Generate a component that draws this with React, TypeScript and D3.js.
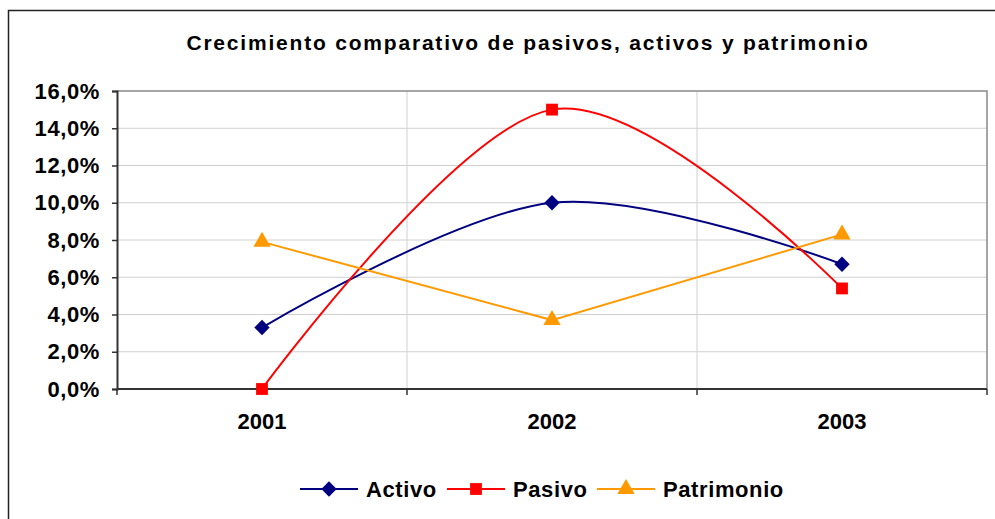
import { useEffect, useRef } from 'react';
import * as d3 from 'd3';

const years = ['2001', '2002', '2003'];
const activo = [3.3, 10.0, 6.7];
const pasivo = [0.0, 15.0, 5.4];
const patrimonio = [7.9, 3.7, 8.3];
const yTicks = [0, 2, 4, 6, 8, 10, 12, 14, 16];

const W = 995;
const H = 519;
const FONT = '"Liberation Sans", Arial, sans-serif';

export default function App() {
  const svgRef = useRef<SVGSVGElement>(null);

  useEffect(() => {
    if (!svgRef.current) return;
    const svg = d3.select(svgRef.current);
    svg.selectAll('*').remove();

    const left = 117, right = 987, top = 91, bottom = 389;

    const x = d3.scaleBand().domain(years).range([left, right]);
    const y = d3.scaleLinear().domain([0, 16]).range([bottom, top]);
    const cx = (d: string) => x(d)! + x.bandwidth() / 2;

    // outer border
    svg.append('rect')
      .attr('x', 8.5).attr('y', 10.5)
      .attr('width', W).attr('height', H)
      .attr('fill', 'white').attr('stroke', '#222').attr('stroke-width', 1.5);

    // title
    svg.append('text')
      .attr('x', 528).attr('y', 50)
      .attr('text-anchor', 'middle')
      .attr('font-family', FONT).attr('font-weight', 'bold')
      .attr('font-size', 21).attr('letter-spacing', 1.8)
      .text('Crecimiento comparativo de pasivos, activos y patrimonio');

    // grid
    const grid = svg.append('g');
    yTicks.filter((t) => t > 0 && t < 16).forEach((t) => {
      grid.append('line')
        .attr('x1', left).attr('x2', right)
        .attr('y1', y(t)).attr('y2', y(t))
        .attr('stroke', '#d0d0d0').attr('stroke-width', 1);
    });
    years.slice(1).forEach((yr) => {
      grid.append('line')
        .attr('x1', x(yr)).attr('x2', x(yr))
        .attr('y1', top).attr('y2', bottom)
        .attr('stroke', '#d0d0d0').attr('stroke-width', 1);
    });

    // plot border top/right
    svg.append('path')
      .attr('d', `M${left},${top}H${right}V${bottom}`)
      .attr('fill', 'none').attr('stroke', '#888').attr('stroke-width', 1.5);

    // y axis
    const yAxis = svg.append('g').attr('transform', `translate(${left},0)`)
      .call(d3.axisLeft(y).tickValues(yTicks).tickSize(5).tickPadding(12)
        .tickFormat((d) => d3.format('.1f')(d as number).replace('.', ',') + '%'));
    yAxis.select('.domain').attr('stroke', '#333').attr('stroke-width', 2);
    yAxis.selectAll('.tick line').attr('stroke', '#333').attr('stroke-width', 1.5);
    yAxis.selectAll('.tick text')
      .attr('font-family', FONT).attr('font-weight', 'bold')
      .attr('font-size', 22).attr('letter-spacing', 0.6).attr('fill', '#000');

    // x axis
    const xAxis = svg.append('g').attr('transform', `translate(0,${bottom})`);
    xAxis.append('line')
      .attr('x1', left).attr('x2', right)
      .attr('stroke', '#333').attr('stroke-width', 2);
    [...years.map((yr) => x(yr)!), right].forEach((px) => {
      xAxis.append('line')
        .attr('x1', px).attr('x2', px).attr('y1', 0).attr('y2', 6)
        .attr('stroke', '#333').attr('stroke-width', 1.5);
    });
    years.forEach((yr) => {
      xAxis.append('text')
        .attr('x', cx(yr)).attr('y', 40)
        .attr('text-anchor', 'middle')
        .attr('font-family', FONT).attr('font-weight', 'bold')
        .attr('font-size', 22)
        .text(yr);
    });

    const smooth = d3.line<number>().x((_, i) => cx(years[i])).y((d) => y(d)).curve(d3.curveCardinal.tension(0));
    const straight = d3.line<number>().x((_, i) => cx(years[i])).y((d) => y(d));

    const series = [
      { name: 'Activo', data: activo, color: '#000080', line: smooth, marker: d3.symbolDiamond2, size: 150 },
      { name: 'Pasivo', data: pasivo, color: '#ff0000', line: smooth, marker: d3.symbolSquare, size: 140 },
      { name: 'Patrimonio', data: patrimonio, color: '#ff9900', line: straight, marker: d3.symbolTriangle, size: 130 },
    ];

    series.forEach((s) => {
      svg.append('path')
        .attr('d', s.line(s.data))
        .attr('fill', 'none').attr('stroke', s.color).attr('stroke-width', 2);
      s.data.forEach((v, i) => {
        svg.append('path')
          .attr('d', d3.symbol().type(s.marker).size(s.size)())
          .attr('transform', `translate(${cx(years[i])},${y(v)})`)
          .attr('fill', s.color);
      });
    });

    // legend
    const legendX = [300, 447, 597];
    series.forEach((s, i) => {
      const g = svg.append('g').attr('transform', `translate(${legendX[i]},489)`);
      g.append('line').attr('x1', 0).attr('x2', 58)
        .attr('stroke', s.color).attr('stroke-width', 2);
      g.append('path')
        .attr('d', d3.symbol().type(s.marker).size(s.size)())
        .attr('transform', 'translate(29,0)')
        .attr('fill', s.color);
      g.append('text')
        .attr('x', 66).attr('y', 8)
        .attr('font-family', FONT).attr('font-weight', 'bold')
        .attr('font-size', 22).attr('letter-spacing', 0.6)
        .text(s.name);
    });
  }, []);

  return <svg ref={svgRef} width={W} height={H} style={{ position: 'absolute', left: 0, top: 0 }} />;
}
